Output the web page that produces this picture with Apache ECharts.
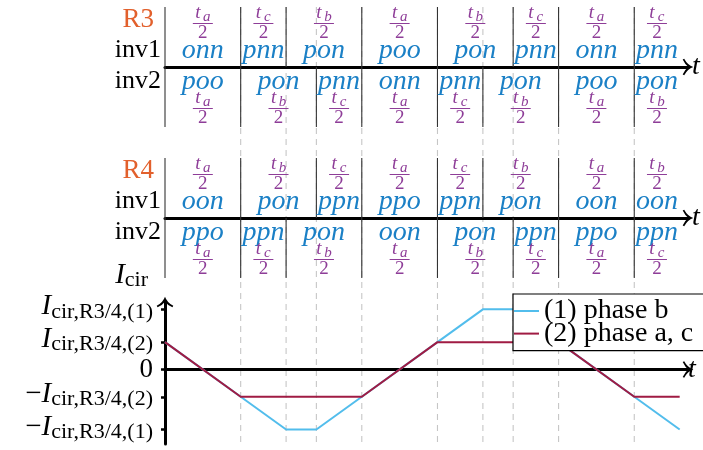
<!DOCTYPE html>
<html>
<head>
<meta charset="utf-8">
<script src="https://cdn.jsdelivr.net/npm/echarts@6/dist/echarts.min.js"></script>
<style>
  html, body { margin: 0; padding: 0; background: #fff; }
  #chart { width: 703px; height: 450px; }
</style>
</head>
<body>
<div id="chart"></div>
<script>
// Switching sequences: segment edges (in units of t_a/2), states and the
// half-interval each segment lasts, for inverter 1 and inverter 2.
const r3Inv1Edges = [0, 1, 1.6, 2.6, 3.6, 4.6, 5.2, 6.2, 6.8];
const r3Inv1States = ['onn', 'pnn', 'pon', 'poo', 'pon', 'pnn', 'onn', 'pnn'];
const r3Inv1Times = ['a', 'c', 'b', 'a', 'b', 'c', 'a', 'c'];
const r3Inv2Edges = [0, 1, 2, 2.6, 3.6, 4.2, 5.2, 6.2, 6.8];
const r3Inv2States = ['poo', 'pon', 'pnn', 'onn', 'pnn', 'pon', 'poo', 'pon'];
const r3Inv2Times = ['a', 'b', 'c', 'a', 'c', 'b', 'a', 'b'];

const r4Inv1Edges = [0, 1, 2, 2.6, 3.6, 4.2, 5.2, 6.2, 6.8];
const r4Inv1States = ['oon', 'pon', 'ppn', 'ppo', 'ppn', 'pon', 'oon', 'oon'];
const r4Inv1Times = ['a', 'b', 'c', 'a', 'c', 'b', 'a', 'b'];
const r4Inv2Edges = [0, 1, 1.6, 2.6, 3.6, 4.6, 5.2, 6.2, 6.8];
const r4Inv2States = ['ppo', 'ppn', 'pon', 'oon', 'pon', 'ppn', 'ppo', 'ppn'];
const r4Inv2Times = ['a', 'c', 'b', 'a', 'b', 'c', 'a', 'c'];

// Switching instants shared by both inverters (dashed guides)
const switchTimes = [1, 1.6, 2, 2.6, 3.6, 4.2, 4.6, 5.2, 6.2];

// Circulating current, in units of I_cir,R3/4,(2)
const phaseBTimes = [0, 1, 1.6, 2, 2.6, 3.6, 4.2, 4.6, 5.2, 6.2, 6.8];
const phaseBValues = [1, -1, -2.2, -2.2, -1, 1, 2.2, 2.2, 1, -1, -2.2];
const phaseACTimes = [0, 1, 2.6, 3.6, 5.2, 6.2, 6.8];
const phaseACValues = [1, -1, -1, 1, 1, -1, -1];
const seriesNames = ['(1) phase b', '(2) phase a, c'];

// Current axis levels and their labels
const currentLevels = [2.2, 1, 0, -1, -2.2];
const currentLabels = [
  '{i|I}{s|cir,R3/4,(1)}',
  '{i|I}{s|cir,R3/4,(2)}',
  '{z|0}',
  '{m|\u2212}{i|I}{s|cir,R3/4,(2)}',
  '{m|\u2212}{i|I}{s|cir,R3/4,(1)}'
];

const SERIF = '"Liberation Serif", "Times New Roman", serif';
const BLUE_TXT = '#1b80c6';
const PURPLE = '#8e3d98';
const ORANGE = '#e2602c';
const ARROW = 'path://M10,0 Q12.5,7 20,11 L19,12.8 Q12.5,9.6 10,6 Q7.5,9.6 1,12.8 L0,11 Q7.5,7 10,0 Z';
const T_MAX = 6.91;

const chart = echarts.init(document.getElementById('chart'), null, { renderer: 'canvas' });

function timeAxis(gridIndex, showLine, namePad) {
  return {
    type: 'value', gridIndex, min: 0, max: T_MAX, z: 3,
    axisLine: showLine ? {
      show: true, onZero: true,
      lineStyle: { color: '#000', width: 3 },
      symbol: ['none', ARROW], symbolSize: [17, 10.6]
    } : { show: false },
    axisTick: { show: false }, axisLabel: { show: false }, splitLine: { show: false },
    name: showLine ? 't' : '',
    nameLocation: 'end', nameGap: 4,
    nameTextStyle: { fontFamily: SERIF, fontStyle: 'italic', fontSize: 28, color: '#000', padding: [namePad || 20, 0, 0, 0] }
  };
}

function rowAxis(gridIndex, tag) {
  return {
    type: 'value', gridIndex, min: -1, max: 1,
    axisLine: { show: false }, axisTick: { show: false }, splitLine: { show: false },
    axisLabel: {
      show: true, customValues: [0.79, 0.28, -0.24], margin: 4,
      formatter: v => v > 0.5 ? '{r|' + tag + '}' : (v > 0 ? 'inv1' : 'inv2'),
      fontFamily: SERIF, fontSize: 26, color: '#000', align: 'right', verticalAlign: 'middle',
      rich: { r: { fontFamily: SERIF, fontSize: 27, color: ORANGE, padding: [0, 7, 0, 0] } }
    }
  };
}

function rowSeries(gridIndex, edges, states, times, dir) {
  const data = states.map((s, i) => [edges[i], edges[i + 1], i]);
  return {
    type: 'custom', xAxisIndex: gridIndex, yAxisIndex: gridIndex, z: 4, silent: true,
    data,
    renderItem(params, api) {
      const i = api.value(2);
      const a = api.value(0), b = api.value(1);
      const base = api.coord([a, 0]);
      const far = api.coord([a, dir]);
      const cx = api.coord([(a + b) / 2, 0])[0];
      const y0 = base[1];
      const stateY = dir > 0 ? y0 - 16.5 : y0 + 14.5;
      const barY = dir > 0 ? y0 - 43.5 : y0 + 41.5;
      return {
        type: 'group',
        children: [
          { type: 'line', shape: { x1: base[0], y1: y0, x2: base[0], y2: far[1] },
            style: { stroke: '#333', lineWidth: 1.1 } },
          { type: 'text', style: { text: states[i], x: cx, y: stateY, align: 'center', verticalAlign: 'middle',
            font: 'italic 28px ' + SERIF, fill: BLUE_TXT } },
          { type: 'text', style: { text: 't', x: cx - 5, y: barY - 10.5, align: 'center', verticalAlign: 'middle',
            font: 'italic 19px ' + SERIF, fill: PURPLE } },
          { type: 'text', style: { text: times[i], x: cx + 4, y: barY - 6, align: 'center', verticalAlign: 'middle',
            font: 'italic 15px ' + SERIF, fill: PURPLE } },
          { type: 'line', shape: { x1: cx - 10, y1: barY, x2: cx + 10, y2: barY },
            style: { stroke: PURPLE, lineWidth: 1 } },
          { type: 'text', style: { text: '2', x: cx, y: barY + 9.5, align: 'center', verticalAlign: 'middle',
            font: '19px ' + SERIF, fill: PURPLE } }
        ]
      };
    }
  };
}

const labelRich = {
  m: { fontFamily: SERIF, fontSize: 29, color: '#000', lineHeight: 30 },
  i: { fontFamily: SERIF, fontStyle: 'italic', fontSize: 29, color: '#000', lineHeight: 30 },
  s: { fontFamily: SERIF, fontSize: 22, color: '#000', lineHeight: 30, padding: [10, 0, 0, 0] },
  z: { fontFamily: SERIF, fontSize: 27, color: '#000', lineHeight: 30, padding: [6, 0, 0, 0] }
};

const option = {
  animation: false,
  backgroundColor: '#fff',
  grid: [
    { left: 165, right: 15, top: 7, height: 120, outerBoundsMode: 'none', containLabel: false },
    { left: 165, right: 15, top: 158, height: 120, outerBoundsMode: 'none', containLabel: false },
    { left: 165, right: 15, top: 302, height: 142, outerBoundsMode: 'none', containLabel: false },
    { left: 165, right: 15, top: 7, height: 438, outerBoundsMode: 'none', containLabel: false }
  ],
  xAxis: [
    timeAxis(0, true),
    timeAxis(1, true),
    Object.assign(timeAxis(2, true, 26), { nameGap: 0 }),
    timeAxis(3, false)
  ],
  yAxis: [
    rowAxis(0, 'R3'),
    rowAxis(1, 'R4'),
    {
      type: 'value', gridIndex: 2, min: -2.73, max: 2.47, z: 3,
      axisLine: { show: true, onZero: false, lineStyle: { color: '#000', width: 3 },
        symbol: ['none', ARROW], symbolSize: [20, 10.6] },
      axisTick: { show: true, customValues: currentLevels, length: 4, lineStyle: { color: '#000', width: 2.5 } },
      axisLabel: {
        show: true, customValues: currentLevels, margin: 12,
        formatter: v => currentLabels[currentLevels.indexOf(v)] || '',
        align: 'right', verticalAlign: 'middle', padding: [0, 0, 5, 0], rich: labelRich
      },
      splitLine: { show: false },
      name: '{i|I}{s|cir}', nameLocation: 'end', nameGap: 16,
      nameTextStyle: { align: 'right', verticalAlign: 'middle', padding: [0, 17, 0, 0], rich: labelRich }
    },
    { type: 'value', gridIndex: 3, min: 0, max: 1, show: false }
  ],
  legend: {
    left: 513, top: 294, orient: 'vertical', icon: 'rect',
    padding: [3, 40, 3, 1], itemGap: -5.4, itemWidth: 25, itemHeight: 2,
    borderColor: '#000', borderWidth: 1.2, borderRadius: 0, backgroundColor: '#fff',
    textStyle: { fontFamily: SERIF, fontSize: 28, color: '#000', lineHeight: 28 },
    data: seriesNames, z: 10
  },
  series: [
    {
      type: 'custom', xAxisIndex: 3, yAxisIndex: 3, z: 1, silent: true,
      data: switchTimes.map(t => [t]),
      renderItem(params, api) {
        const top = api.coord([api.value(0), 1]);
        const bottom = api.coord([api.value(0), 0]);
        return { type: 'line', shape: { x1: top[0], y1: top[1], x2: bottom[0], y2: bottom[1] },
          style: { stroke: '#c6c6c6', lineWidth: 1.1, lineDash: [6, 5] } };
      }
    },
    rowSeries(0, r3Inv1Edges, r3Inv1States, r3Inv1Times, 1),
    rowSeries(0, r3Inv2Edges, r3Inv2States, r3Inv2Times, -1),
    rowSeries(1, r4Inv1Edges, r4Inv1States, r4Inv1Times, 1),
    rowSeries(1, r4Inv2Edges, r4Inv2States, r4Inv2Times, -1),
    {
      name: seriesNames[0], type: 'line', xAxisIndex: 2, yAxisIndex: 2, z: 5,
      data: phaseBTimes.map((t, i) => [t, phaseBValues[i]]),
      symbol: 'none', lineStyle: { color: '#52bdec', width: 2 }, itemStyle: { color: '#52bdec' }
    },
    {
      name: seriesNames[1], type: 'line', xAxisIndex: 2, yAxisIndex: 2, z: 6,
      data: phaseACTimes.map((t, i) => [t, phaseACValues[i]]),
      symbol: 'none', lineStyle: { color: '#a01b43', width: 2 }, itemStyle: { color: '#a01b43' }
    }
  ]
};

chart.setOption(option);
</script>
</body>
</html>
